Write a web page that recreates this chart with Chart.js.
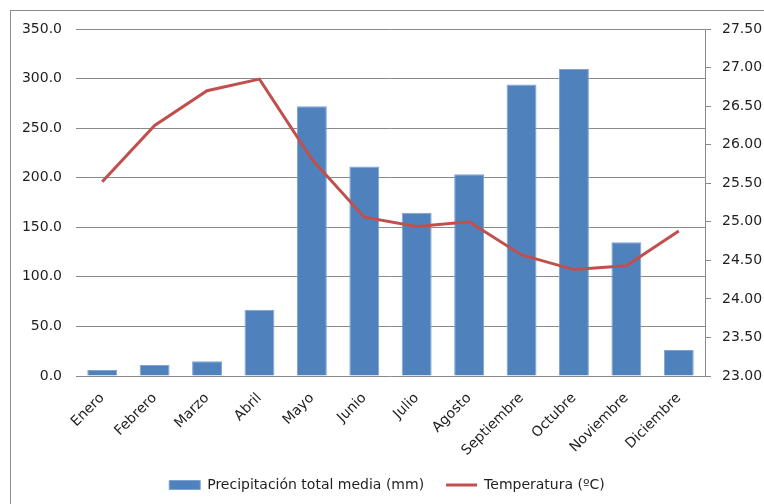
<!DOCTYPE html>
<html>
<head>
<meta charset="utf-8">
<title>Precipitación y temperatura</title>
<script src="https://cdn.jsdelivr.net/npm/chart.js@4.4.1/dist/chart.umd.min.js"></script>
<style>
    body {
        margin: 0;
        width: 764px;
        height: 504px;
        overflow: hidden;
        background: #fff;
    }
    .frame {
        position: absolute;
        left: 10px;
        top: 10px;
        width: 800px;
        height: 600px;
        border: 1px solid #8c8c8c;
        pointer-events: none;
    }
    .chart-box {
        position: absolute;
        left: 0;
        top: 0;
        width: 764px;
        height: 504px;
    }
</style>
</head>
<body>
<div class="frame"></div>
<div class="chart-box">
    <canvas id="clima-chart"></canvas>
</div>
<script>
// monthly data
const meses = ["Enero", "Febrero", "Marzo", "Abril", "Mayo", "Junio", "Julio", "Agosto", "Septiembre", "Octubre", "Noviembre", "Diciembre"];
const precipitacion = [6.1, 11.2, 14.8, 66.9, 272.2, 211.3, 164.7, 203.6, 294.1, 309.6, 135.0, 26.3];
const temperatura = [25.52, 26.25, 26.70, 26.85, 25.81, 25.06, 24.94, 25.00, 24.57, 24.38, 24.43, 24.88];

// axis ranges
const precipTicks = [0, 350, 50];
const tempTicks = [23, 27.5, 0.5];

const gridGray = '#8a8a8a';
const textColor = '#1f1f1f';

Chart.defaults.font.family = "'DejaVu Sans', sans-serif";
Chart.defaults.color = textColor;

const climaCanvas = document.getElementById('clima-chart');

const climaData = {
    labels: meses,
    datasets: [{
        type: 'line',
        label: 'Temperatura (ºC)',
        data: temperatura,
        yAxisID: 'y1',
        borderColor: '#C0504D',
        backgroundColor: '#C0504D',
        borderWidth: 3,
        pointRadius: 0,
        pointStyle: 'line',
        tension: 0,
        order: 1
    }, {
        type: 'bar',
        label: 'Precipitación total media (mm)',
        data: precipitacion,
        yAxisID: 'y',
        backgroundColor: '#4F81BD',
        borderColor: '#7FA3D1',
        borderWidth: 1,
        pointStyle: 'rect',
        barPercentage: 0.57,
        categoryPercentage: 1,
        order: 2
    }]
};

const climaOptions = {
    responsive: true,
    maintainAspectRatio: false,
    animation: {
        duration: 0
    },
    layout: {
        padding: { left: 10, right: 0, top: 29, bottom: 2 }
    },
    scales: {
        x: {
            grid: { display: false },
            border: { display: false },
            ticks: {
                minRotation: 45,
                maxRotation: 45,
                padding: 6,
                font: { size: 14 }
            },
            afterFit: s => { s.height = 80; }
        },
        y: {
            position: 'left',
            min: precipTicks[0],
            max: precipTicks[1],
            grid: {
                color: gridGray,
                drawTicks: false
            },
            border: { display: false },
            ticks: {
                stepSize: precipTicks[2],
                padding: 14,
                font: { size: 14 },
                callback: v => v.toFixed(1)
            },
            afterFit: s => { s.width = 66; }
        },
        y1: {
            position: 'right',
            min: tempTicks[0],
            max: tempTicks[1],
            grid: {
                drawOnChartArea: false,
                color: gridGray,
                tickLength: 6
            },
            border: { display: true, color: gridGray },
            ticks: {
                stepSize: tempTicks[2],
                padding: 11,
                font: { size: 14 },
                callback: v => v.toFixed(2)
            },
            afterFit: s => { s.width = 59; }
        }
    },
    plugins: {
        legend: {
            position: 'bottom',
            reverse: true,
            labels: {
                usePointStyle: true,
                pointStyleWidth: 31,
                boxWidth: 31,
                boxHeight: 9,
                padding: 22,
                font: { size: 14 }
            }
        },
        tooltip: { enabled: false }
    }
};

let climaChart = new Chart(climaCanvas, {
    data: climaData,
    options: climaOptions
});
</script>
</body>
</html>
